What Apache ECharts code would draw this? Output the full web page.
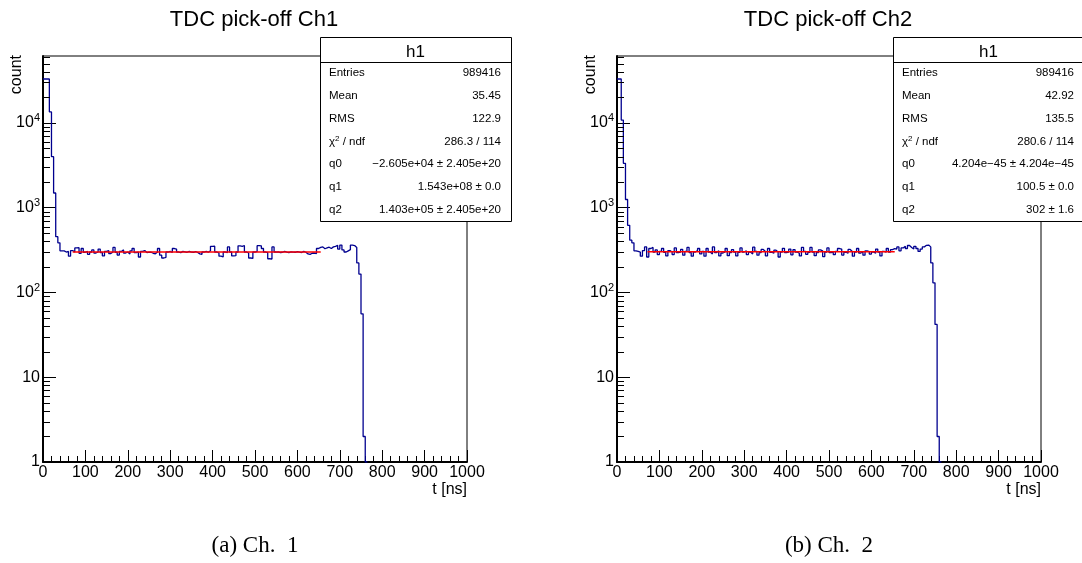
<!DOCTYPE html>
<html><head><meta charset="utf-8">
<script src="https://cdn.jsdelivr.net/npm/echarts@6/dist/echarts.min.js"></script>
<style>html,body{margin:0;padding:0;background:#fff}#c{width:1082px;height:563px}</style>
</head><body><div id="c"></div>
<script>
// ---------------- data ----------------
const binWidth = 5; // ns per bin, bins start at 0
const ch1Counts = [
  33000, 33000, 33000, 13500, 4000, 1490, 455, 385, 310, 310,
  300, 305, 268, 312, 300, 335, 338, 290, 330, 298,
  305, 282, 300, 318, 292, 300, 325, 296, 270, 305,
  312, 288, 300, 340, 298, 276, 305, 318, 292, 300,
  285, 310, 330, 295, 300, 262, 305, 312, 296, 300,
  298, 290, 286, 300, 330, 275, 255, 260, 300, 305,
  296, 330, 325, 300, 295, 305, 302, 298, 306, 300,
  298, 304, 296, 285, 282, 300, 305, 298, 310, 350,
  352, 300, 292, 268, 262, 300, 296, 345, 300, 270,
  272, 300, 355, 350, 358, 300, 292, 255, 252, 300,
  305, 356, 355, 330, 300, 296, 250, 248, 345, 300,
  302, 296, 298, 305, 300, 296, 302, 300, 298, 304,
  300, 296, 305, 298, 285, 282, 290, 292, 288, 330,
  340, 345, 328, 335, 342, 330, 345, 350, 360, 325,
  362, 318, 300, 310, 320, 362, 358, 340, 223, 165,
  56, 2, 0
];
const ch2Counts = [
  33000, 33000, 10800, 3340, 1250, 620, 414, 385, 310, 305,
  300, 268, 312, 345, 262, 330, 340, 300, 318, 280,
  305, 330, 298, 270, 312, 300, 280, 335, 296, 300,
  322, 275, 305, 340, 296, 268, 300, 312, 330, 285,
  305, 268, 330, 300, 285, 345, 296, 310, 270, 292,
  300, 330, 272, 296, 320, 300, 270, 298, 335, 300,
  310, 280, 300, 285, 342, 305, 275, 296, 322, 305,
  270, 330, 298, 290, 315, 300, 262, 300, 332, 296,
  300, 325, 278, 320, 300, 290, 270, 340, 305, 282,
  298, 340, 300, 272, 296, 318, 310, 265, 300, 335,
  296, 300, 280, 305, 330, 325, 276, 298, 290, 322,
  305, 268, 300, 330, 292, 300, 275, 310, 304, 284,
  300, 290, 325, 300, 270, 305, 300, 330, 300, 320,
  330, 325, 345, 310, 335, 352, 330, 358, 340, 325,
  350, 330, 305, 325, 345, 360, 362, 345, 223, 130,
  42, 2, 0
];
const ch1Fit = [[70, 300], [655, 300]];
const ch2Fit = [[72, 302], [655, 302]];
const xMin = 0, xMax = 1000, xStep = 100;
const yMin = 1, yMax = 61600;
const yMinorTicks = [2,3,4,5,6,7,8,9,20,30,40,50,60,70,80,90,200,300,400,500,600,700,800,900,
  2000,3000,4000,5000,6000,7000,8000,9000,20000,30000,40000,50000,60000];
const titles = ['TDC pick-off Ch1', 'TDC pick-off Ch2'];
const captions = ['(a) Ch.  1', '(b) Ch.  2'];
const stats1 = [['Entries','989416'],['Mean','35.45'],['RMS','122.9'],['CHI','286.3 / 114'],
  ['q0','\u22122.605e+04 \u00b1 2.405e+20'],['q1','1.543e+08 \u00b1 0.0'],['q2','1.403e+05 \u00b1 2.405e+20']];
const stats2 = [['Entries','989416'],['Mean','42.92'],['RMS','135.5'],['CHI','280.6 / 114'],
  ['q0','4.204e\u221245 \u00b1 4.204e\u221245'],['q1','100.5 \u00b1 0.0'],['q2','302 \u00b1 1.6']];

// ---------------- layout ----------------
const FONT = '"Liberation Sans", Arial, sans-serif';
const grids = [
  {left: 43, top: 56, width: 424, height: 406},
  {left: 617, top: 56, width: 424, height: 406}
];
const boxes = [{x: 320, y: 37, w: 191, h: 184}, {x: 893, y: 37, w: 191, h: 184}];

function histPoints(counts) {
  const pts = counts.map((c, i) => [i * binWidth, Math.max(c, yMin)]);
  pts.push([counts.length * binWidth, yMin]);
  return pts;
}

const xAxes = grids.map((g, i) => ({
  type: 'value', gridIndex: i, min: xMin, max: xMax, interval: xStep,
  axisLine: {show: true, lineStyle: {color: '#000', width: 2}},
  axisTick: {show: true, inside: true, length: 12, lineStyle: {color: '#000', width: 1}},
  minorTick: {show: true, splitNumber: 5, length: 6, lineStyle: {color: '#000', width: 1}},
  splitLine: {show: false}, minorSplitLine: {show: false},
  axisLabel: {fontSize: 16, fontFamily: FONT, color: '#000', margin: 3, showMinLabel: true, showMaxLabel: true,
    formatter: v => String(v)}
}));
const yAxes = grids.map((g, i) => ({
  type: 'log', logBase: 10, gridIndex: i, min: yMin, max: yMax,
  axisLine: {show: true, lineStyle: {color: '#000', width: 2}},
  axisTick: {show: true, inside: true, length: 13, lineStyle: {color: '#000', width: 1}},
  splitLine: {show: false},
  axisLabel: {
    margin: 3, showMaxLabel: false, color: '#000',
    formatter: v => {
      const e = Math.round(Math.log10(v));
      if (Math.abs(Math.pow(10, e) - v) > 1e-6 * v) return '';
      if (e === 0) return '{b|1}';
      if (e === 1) return '{b|10}';
      return '{b|10}{s|' + e + '}';
    },
    rich: {
      b: {fontSize: 16, fontFamily: FONT, color: '#000'},
      s: {fontSize: 11, fontFamily: FONT, color: '#000', padding: [0, 0, 9, 0]}
    }
  }
}));

const series = [];
[ch1Counts, ch2Counts].forEach((counts, i) => {
  series.push({
    type: 'line', xAxisIndex: i, yAxisIndex: i, step: 'end', showSymbol: false, symbol: 'none',
    data: histPoints(counts), lineStyle: {color: '#00008f', width: 1.3}, z: 3, silent: true
  });
});
[ch1Fit, ch2Fit].forEach((fit, i) => {
  series.push({
    type: 'line', xAxisIndex: i, yAxisIndex: i, showSymbol: false, symbol: 'none',
    data: fit, lineStyle: {color: '#ff0000', width: 1.6}, z: 4, silent: true
  });
});
grids.forEach((g, i) => {
  series.push({
    type: 'custom', xAxisIndex: i, yAxisIndex: i, clip: false, silent: true, z: 5,
    data: yMinorTicks.map(v => [xMin, v]),
    encode: {x: 0, y: 1},
    renderItem: (params, api) => {
      const p = api.coord([api.value(0), api.value(1)]);
      return {type: 'line', shape: {x1: p[0], y1: Math.round(p[1]) + 0.5, x2: p[0] + 7, y2: Math.round(p[1]) + 0.5},
        style: {stroke: '#000', lineWidth: 1}};
    }
  });
});

// ---------------- texts & stats boxes ----------------
const graphics = [];
grids.forEach((g, i) => {
  const cx = g.left + g.width / 2;
  graphics.push({type: 'text', x: cx - 1, y: 20, z: 10,
    style: {text: titles[i], font: '22px ' + FONT, fill: '#000', align: 'center', verticalAlign: 'middle'}});
  graphics.push({type: 'text', x: g.left + g.width, y: 490, z: 10,
    style: {text: 't [ns]', font: '16px ' + FONT, fill: '#000', align: 'right', verticalAlign: 'middle'}});
  graphics.push({type: 'text', x: g.left - 26, y: g.top - 1, rotation: Math.PI / 2, z: 10,
    style: {text: 'count', font: '16px ' + FONT, fill: '#000', align: 'right', verticalAlign: 'middle'}});
  graphics.push({type: 'text', x: cx, y: 546, z: 10,
    style: {text: captions[i], font: '23px "Liberation Serif", "DejaVu Serif", serif', fill: '#000', align: 'center', verticalAlign: 'middle'}});
});
[stats1, stats2].forEach((st, i) => {
  const b = boxes[i];
  graphics.push({type: 'rect', z: 20, shape: {x: b.x + 0.5, y: b.y + 0.5, width: b.w, height: b.h},
    style: {fill: '#fff', stroke: '#000', lineWidth: 1}});
  graphics.push({type: 'line', z: 21, shape: {x1: b.x, y1: b.y + 25.5, x2: b.x + b.w, y2: b.y + 25.5},
    style: {stroke: '#000', lineWidth: 1}});
  graphics.push({type: 'text', z: 21, x: b.x + b.w / 2, y: b.y + 15,
    style: {text: 'h1', font: '17px ' + FONT, fill: '#000', align: 'center', verticalAlign: 'middle'}});
  st.forEach((row, r) => {
    const y = 72.7 + r * 22.9;
    const lab = row[0] === 'CHI'
      ? {text: '{a|\u03c7}{s|2}{a| / ndf}', rich: {a: {font: '11.5px ' + FONT, fill: '#000'}, s: {font: '8px ' + FONT, fill: '#000', padding: [0, 0, 6, 0]}}}
      : {text: row[0]};
    graphics.push({type: 'text', z: 21, x: b.x + 9, y: y,
      style: Object.assign({font: '11.5px ' + FONT, fill: '#000', align: 'left', verticalAlign: 'middle'}, lab)});
    graphics.push({type: 'text', z: 21, x: b.x + b.w - 10, y: y,
      style: {text: row[1], font: '11.5px ' + FONT, fill: '#000', align: 'right', verticalAlign: 'middle'}});
  });
});

const chart = echarts.init(document.getElementById('c'), null, {renderer: 'canvas'});
chart.setOption({
  animation: false,
  backgroundColor: '#fff',
  grid: grids.map(g => Object.assign({show: true, borderColor: '#000', borderWidth: 1, backgroundColor: 'transparent'}, g)),
  xAxis: xAxes,
  yAxis: yAxes,
  series: series,
  graphic: graphics
});
</script></body></html>
